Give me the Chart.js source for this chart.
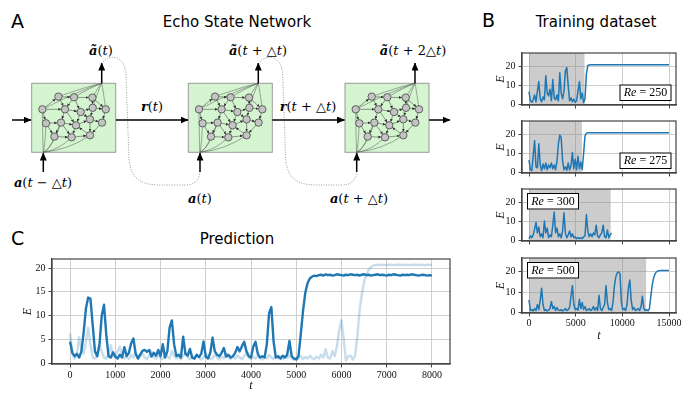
<!DOCTYPE html>
<html>
<head>
<meta charset="utf-8">
<script src="https://cdn.jsdelivr.net/npm/chart.js@4.4.1/dist/chart.umd.min.js"></script>
<style>
html, body { margin: 0; padding: 0; background: #fff; }
#wrap { position: relative; width: 695px; height: 400px; overflow: hidden; }
#wrap svg { position: absolute; left: 0; top: 0; }
#wrap canvas { position: absolute; }
.m { font-family: 'DejaVu Serif', serif; font-size: 13px; }
.bv { font-weight: bold; font-style: italic; }
.it { font-style: italic; }
</style>
</head>
<body>
<div id="wrap">
<svg id="diagram" width="695" height="400" viewBox="0 0 695 400" font-family="'DejaVu Sans', sans-serif">
  <defs>
    <marker id="ah" markerWidth="8" markerHeight="7" refX="7.5" refY="3.5" orient="auto" markerUnits="userSpaceOnUse">
      <path d="M0,0 L8,3.5 L0,7 Z" fill="#000"/>
    </marker>
    <marker id="sa" markerWidth="3" markerHeight="3" refX="3" refY="1.5" orient="auto" markerUnits="userSpaceOnUse">
      <path d="M0,0 L3,1.5 L0,3 Z" fill="#333"/>
    </marker>
    <g id="net"></g>
  </defs>

  <text x="11" y="28" font-size="19">A</text>
  <text x="237" y="27" text-anchor="middle" font-size="15">Echo State Network</text>
  <text x="482" y="27" font-size="19">B</text>
  <text x="596" y="27" text-anchor="middle" font-size="15">Training dataset</text>
  <text x="11" y="245" font-size="19">C</text>
  <text x="237" y="244" text-anchor="middle" font-size="15">Prediction</text>

  <!-- dotted feedback loops -->
  <path d="M103,62 C110,54 125,55 126,75 L129,160 C131,178 140,185 160,185 L185,185 C195,185 199,180 200,172" fill="none" stroke="#9a9a9a" stroke-width="1" stroke-dasharray="1,1.5"/>
  <path transform="translate(156.7,0)" d="M103,62 C110,54 125,55 126,75 L129,160 C131,178 140,185 160,185 L185,185 C195,185 199,180 200,172" fill="none" stroke="#9a9a9a" stroke-width="1" stroke-dasharray="1,1.5"/>

  <use href="#net" x="31.7" y="83.3"/>
  <use href="#net" x="188.3" y="83.3"/>
  <use href="#net" x="345" y="83.3"/>

  <g stroke="#000" stroke-width="1.5" fill="none" marker-end="url(#ah)">
    <path d="M12,120 L31,120"/>
    <path d="M116,120 L188,120"/>
    <path d="M272.3,120 L344.5,120"/>
    <path d="M429,120 L450,120"/>
    <path d="M101.7,83.3 L101.7,63"/>
    <path d="M258.3,83.3 L258.3,63"/>
    <path d="M415,83.3 L415,63"/>
    <path d="M43.3,172 L43.3,153"/>
    <path d="M200,172 L200,153"/>
    <path d="M356.7,172 L356.7,153"/>
  </g>

  <text class="m" x="101" y="55" text-anchor="middle"><tspan class="bv">ã</tspan>(<tspan class="it">t</tspan>)</text>
  <text class="m" x="258" y="55" text-anchor="middle"><tspan class="bv">ã</tspan>(<tspan class="it">t</tspan> + △<tspan class="it">t</tspan>)</text>
  <text class="m" x="413" y="55" text-anchor="middle"><tspan class="bv">ã</tspan>(<tspan class="it">t</tspan> + 2△<tspan class="it">t</tspan>)</text>
  <text class="m" x="152" y="111" text-anchor="middle"><tspan class="bv">r</tspan>(<tspan class="it">t</tspan>)</text>
  <text class="m" x="308" y="111" text-anchor="middle"><tspan class="bv">r</tspan>(<tspan class="it">t</tspan> + △<tspan class="it">t</tspan>)</text>
  <text class="m" x="43" y="187" text-anchor="middle"><tspan class="bv">a</tspan>(<tspan class="it">t</tspan> − △<tspan class="it">t</tspan>)</text>
  <text class="m" x="200" y="203" text-anchor="middle"><tspan class="bv">a</tspan>(<tspan class="it">t</tspan>)</text>
  <text class="m" x="359" y="203" text-anchor="middle"><tspan class="bv">a</tspan>(<tspan class="it">t</tspan> + △<tspan class="it">t</tspan>)</text>
</svg>

<canvas id="predC" width="460" height="150" style="left:0px;top:250px"></canvas>
<canvas id="re250" width="196" height="70" style="left:490px;top:44px"></canvas>
<canvas id="re275" width="196" height="70" style="left:490px;top:112px"></canvas>
<canvas id="re300" width="196" height="70" style="left:490px;top:180px"></canvas>
<canvas id="re500" width="196" height="100" style="left:490px;top:249px"></canvas>
</div>

<script>
// ---- panel C: prediction vs. truth, sampled every 50 time units ----
const tStepC = 50;
const predE = [
  4.5, 2.2, 1.5, 2.0, 1.2, 2.5, 6.5, 11.5, 13.8, 13.6,
  8.0, 2.5, 1.5, 4.0, 10.0, 12.3, 6.0, 1.5, 1.2, 2.3,
  1.4, 1.0, 1.8, 1.2, 3.4, 1.5, 2.2, 4.2, 5.2, 2.0,
  1.0, 1.8, 2.6, 2.8, 2.4, 2.8, 1.4, 2.2, 1.6, 2.8,
  1.5, 4.0, 1.2, 2.5, 7.5, 9.0, 4.0, 1.5, 1.8, 1.2,
  5.6, 2.0, 1.6, 3.0, 1.2, 1.0, 1.8, 1.3, 2.0, 4.6,
  1.4, 1.0, 2.2, 5.4, 2.5, 1.8, 1.5, 2.2, 3.2, 1.4,
  1.8, 1.2, 1.5, 2.2, 3.4, 2.5, 3.6, 4.5, 2.5, 1.5,
  1.2, 3.5, 4.5, 2.0, 1.2, 1.5, 1.2, 4.0, 10.5, 11.8,
  4.5, 1.2, 1.5, 1.0, 1.6, 1.2, 1.8, 4.7, 1.5, 1.0,
  0.8, 1.5, 6.0, 11.0, 14.8, 16.8, 17.8, 18.2, 18.4, 18.3,
  18.5, 18.6, 18.4, 18.7, 18.5, 18.6, 18.4, 18.5, 18.7, 18.6,
  18.5, 18.4, 18.6, 18.5, 18.7, 18.6, 18.5, 18.6, 18.4, 18.6,
  18.7, 18.5, 18.6, 18.4, 18.5, 18.6, 18.7, 18.5, 18.6, 18.5,
  18.4, 18.6, 18.5, 18.7, 18.6, 18.5, 18.4, 18.6, 18.5, 18.6,
  18.5, 18.7, 18.6, 18.5, 18.4, 18.5, 18.6, 18.5, 18.4, 18.5,
  18.4
];
const trueE = [
  6.3, 2.0, 1.0, 1.8, 5.5, 3.0, 2.0, 4.5, 7.5, 4.0,
  1.2, 1.0, 1.5, 3.8, 2.5, 1.2, 1.0, 2.0, 3.8, 1.5,
  1.2, 2.5, 3.5, 1.5, 1.0, 1.4, 0.9, 1.8, 1.2, 2.2,
  1.0, 1.5, 2.0, 1.2, 0.9, 1.6, 2.4, 1.3, 1.0, 1.8,
  1.1, 0.9, 2.0, 1.4, 1.0, 2.6, 1.5, 1.0, 1.3, 0.8,
  1.6, 2.2, 1.2, 0.9, 1.5, 1.0, 1.8, 1.3, 0.8, 1.2,
  2.0, 1.4, 0.9, 1.1, 1.8, 1.2, 0.8, 1.5, 1.0, 1.9,
  1.3, 0.9, 1.4, 1.0, 1.7, 1.2, 0.9, 1.5, 2.1, 1.2,
  0.9, 1.4, 1.0, 1.6, 1.1, 0.8, 1.3, 1.0, 1.8, 1.2,
  0.9, 1.5, 1.0, 1.3, 0.8, 1.4, 1.1, 1.6, 1.0, 0.8,
  1.2, 1.0, 1.5, 0.9, 1.3, 1.0, 1.6, 1.1, 0.9, 1.4,
  1.0, 1.8, 1.2, 3.0, 1.2, 1.0, 2.6, 1.5, 3.5, 7.0,
  9.0, 5.0, 0.6, 1.5, 1.6, 0.8, 1.5, 5.5, 11.0, 14.5,
  17.0, 18.6, 19.6, 20.2, 20.5, 20.6, 20.7, 20.6, 20.7, 20.7,
  20.6, 20.7, 20.7, 20.6, 20.7, 20.7, 20.7, 20.6, 20.7, 20.7,
  20.6, 20.7, 20.7, 20.7, 20.6, 20.7, 20.7, 20.6, 20.7, 20.7,
  20.7
];
const xTicksC = [0, 1000, 2000, 3000, 4000, 5000, 6000, 7000, 8000];
const yTicksC = [0, 5, 10, 15, 20];

// ---- panel B: training series, sampled every 150 time units ----
const tStepB = 150;
const re250E = [
  6.8, 2.0, 1.2, 2.5, 5.0, 1.5, 7.0, 12.0, 3.0, 1.5,
  4.0, 2.5, 15.0, 6.0, 4.5, 8.0, 2.0, 13.0, 3.5, 2.5,
  5.0, 2.0, 16.5, 6.0, 3.0, 7.0, 17.5, 19.2, 10.0, 2.0,
  3.5, 1.5, 2.8, 1.2, 2.0, 7.0, 12.0, 3.0, 6.0, 1.0,
  3.0, 16.0, 20.3, 20.6, 20.7
];
const re250End = [15000, 20.7];
const re250Shade = 5950;

const re275E = [
  6.5, 1.5, 1.0, 9.0, 16.5, 3.0, 2.5, 15.0, 4.0, 1.0,
  4.5, 2.0, 5.0, 1.5, 4.0, 2.5, 5.0, 2.0, 4.0, 1.5,
  6.0, 15.0, 19.5, 18.0, 6.0, 1.5, 3.0, 1.2, 5.0, 1.5,
  3.5, 10.5, 2.0, 7.0, 1.5, 8.5, 2.0, 5.5, 1.5, 10.0,
  19.0, 20.5, 20.7
];
const re275End = [15000, 20.7];
const re275Shade = 5670;

const re300E = [
  1.0, 2.5, 1.5, 3.0, 6.0, 9.5, 4.0, 7.0, 2.0, 3.5,
  1.5, 10.2, 4.0, 6.5, 1.5, 3.0, 2.0, 8.0, 14.8, 4.0,
  6.5, 2.0, 3.5, 1.5, 5.0, 14.5, 4.0, 1.5, 3.0, 5.0,
  2.0, 3.5, 1.5, 2.0, 1.0, 1.5, 1.0, 1.5, 1.0, 2.0,
  2.5, 13.5, 5.0, 2.0, 3.5, 2.0, 4.0, 3.0, 8.0, 2.5,
  1.5, 3.0, 4.0, 8.0, 2.0, 1.5, 5.5, 1.5, 3.0, 4.0
];
const re300Shade = 8750;

const re500E = [
  6.2, 1.0, 1.5, 0.8, 2.0, 1.0, 4.0, 1.5, 6.0, 12.0,
  4.0, 1.0, 1.5, 0.8, 1.2, 2.0, 5.5, 2.0, 3.0, 1.0,
  2.5, 1.2, 1.0, 1.5, 0.8, 1.2, 2.0, 1.0, 1.5, 2.5,
  8.0, 13.3, 4.0, 1.5, 2.0, 1.2, 6.5, 2.0, 5.0, 1.5,
  3.0, 1.0, 1.5, 2.0, 1.0, 1.5, 3.0, 1.2, 2.5, 1.0,
  8.5, 2.0, 1.0, 2.5, 4.0, 13.3, 5.0, 1.5, 2.0, 1.0,
  5.0, 13.0, 17.5, 19.5, 20.0, 19.0, 5.0, 1.5, 2.0, 1.0,
  4.0, 12.0, 16.0, 6.0, 1.5, 2.5, 1.0, 1.5, 2.0, 1.0,
  3.0, 8.0, 2.0, 1.0, 1.5, 0.8, 2.0, 8.0, 13.5, 17.0,
  19.0, 20.0, 20.4, 20.6, 20.7
];
const re500End = [15000, 20.7];
const re500Shade = 12550;

const xTicksB = [0, 5000, 10000, 15000];
const yTicksB = [0, 10, 20];

// ---- network sketch inside the ESN boxes (panel A) ----
const netNodes = [
  [26.7, 13.3], [42.3, 14], [60.7, 14.3], [10.7, 26], [33.3, 26], [49, 28.7],
  [61, 24.5], [74, 26], [14.3, 40], [29.3, 39.3], [44.3, 42], [58.3, 36],
  [70.3, 39.3], [22.7, 53.3], [40, 54], [58.3, 52]
];
const netEdges = [
  [3, 0], [3, 4], [0, 1], [1, 2], [4, 5], [5, 6], [6, 7], [3, 8], [8, 9], [9, 10],
  [10, 11], [11, 12], [13, 14], [14, 15], [0, 4], [4, 9], [9, 13], [1, 5], [5, 10],
  [10, 14], [2, 6], [6, 11], [11, 15], [7, 12], [8, 13], [12, 15], [4, 10], [9, 14],
  [5, 11], [2, 7], [1, 4], [15, 10]
];
const netOut = [3, 0, 1, 2, 6, 7];
const netIn = [8, 13, 14, 15, 9, 3];

(function buildNet() {
  const ns = 'http://www.w3.org/2000/svg';
  const g = document.getElementById('net');
  const add = (tag, attrs) => {
    const el = document.createElementNS(ns, tag);
    for (const k in attrs) el.setAttribute(k, attrs[k]);
    g.appendChild(el);
    return el;
  };
  add('rect', { x: 0, y: 0, width: 84, height: 69, fill: '#d4f5d0', stroke: '#9a9a9a', 'stroke-width': 1 });
  const outP = [70, 0], inP = [11.6, 69];
  netOut.forEach(i => {
    const [x, y] = netNodes[i];
    const cx = x * 0.35 + outP[0] * 0.65, cy = y * 0.25;
    add('path', { d: `M${x},${y} Q${cx},${cy} ${outP[0]},${outP[1]}`, fill: 'none', stroke: '#555', 'stroke-width': 0.5 });
  });
  netIn.forEach(i => {
    const [x, y] = netNodes[i];
    const cx = inP[0] + (x - inP[0]) * 0.55, cy = inP[1] - (inP[1] - y) * 0.15;
    add('path', { d: `M${inP[0]},${inP[1]} Q${cx},${cy} ${x},${y}`, fill: 'none', stroke: '#555', 'stroke-width': 0.5 });
  });
  const r = 3.7;
  netEdges.forEach(([a, b]) => {
    const [x1, y1] = netNodes[a], [x2, y2] = netNodes[b];
    const d = Math.hypot(x2 - x1, y2 - y1);
    const ux = (x2 - x1) / d, uy = (y2 - y1) / d;
    add('line', { x1: x1 + ux * r, y1: y1 + uy * r, x2: x2 - ux * r, y2: y2 - uy * r,
      stroke: '#333', 'stroke-width': 0.5, 'marker-end': 'url(#sa)' });
  });
  netNodes.forEach(([x, y]) => add('circle', { cx: x, cy: y, r: r, fill: '#c4c4c4', stroke: '#444', 'stroke-width': 0.8 }));
})();

// ---- charts ----
const serif = "'Liberation Serif', 'DejaVu Serif', serif";
const gridColor = '#cfcfcf';
const spineColor = '#444';

const decor = {
  id: 'decor',
  beforeDatasetsDraw(chart, args, opts) {
    if (opts.shadeTo == null) return;
    const { ctx, chartArea: a, scales: { x } } = chart;
    const x0 = x.getPixelForValue(0), x1 = x.getPixelForValue(opts.shadeTo);
    ctx.save();
    ctx.fillStyle = 'rgba(128,128,128,0.4)';
    ctx.fillRect(x0, a.top, x1 - x0, a.bottom - a.top);
    ctx.restore();
  },
  afterDraw(chart, args, opts) {
    const { ctx, chartArea: a } = chart;
    ctx.save();
    ctx.strokeStyle = spineColor;
    ctx.lineWidth = 1.2;
    ctx.strokeRect(a.left, a.top, a.right - a.left, a.bottom - a.top);
    if (opts.label) {
      const w = 52, h = 16.5;
      const bx = opts.corner === 'br' ? a.right - 4.5 - w : a.left + 5;
      const by = opts.corner === 'br' ? a.bottom - 4 - h : a.top + 4;
      ctx.fillStyle = '#fff';
      ctx.fillRect(bx, by, w, h);
      ctx.strokeStyle = '#000';
      ctx.lineWidth = 1;
      ctx.strokeRect(bx + 0.5, by + 0.5, w - 1, h - 1);
      ctx.fillStyle = '#000';
      ctx.textBaseline = 'middle';
      ctx.font = `italic 12px ${serif}`;
      const t1 = 'Re';
      const t2 = ' = ' + opts.label;
      const w1 = ctx.measureText(t1).width;
      ctx.font = `12px ${serif}`;
      const w2 = ctx.measureText(t2).width;
      let tx = bx + (w - w1 - w2) / 2;
      const ty = by + h / 2 + 0.5;
      ctx.font = `italic 12px ${serif}`;
      ctx.fillText(t1, tx, ty);
      ctx.font = `12px ${serif}`;
      ctx.fillText(t2, tx + w1, ty);
    }
    ctx.restore();
  }
};
Chart.register(decor);

function axis(cfg) {
  return {
    type: 'linear',
    min: cfg.min,
    max: cfg.max,
    afterBuildTicks: s => { s.ticks = cfg.ticks.map(v => ({ value: v })); },
    afterFit: s => { if (cfg.width != null) s.width = cfg.width; if (cfg.height != null) s.height = cfg.height; },
    grid: { color: gridColor, lineWidth: 1, tickColor: spineColor, tickLength: 3.5, drawTicks: true },
    border: { display: true, color: spineColor, width: 1.2 },
    ticks: {
      display: cfg.labels !== false,
      autoSkip: false,
      maxRotation: 0,
      padding: cfg.tickPad,
      color: '#111',
      font: { family: serif, size: 10 },
      callback: v => String(v)
    },
    title: cfg.title ? {
      display: true,
      text: cfg.title,
      color: '#111',
      font: { family: serif, size: 12, style: 'italic' },
      padding: cfg.titlePad
    } : { display: false }
  };
}

function lineChart(id, datasets, o) {
  return new Chart(document.getElementById(id), {
    type: 'line',
    data: { datasets },
    options: {
      animation: false,
      responsive: false,
      layout: { padding: { top: o.padTop, right: o.padRight, left: 0, bottom: 0 } },
      elements: { point: { radius: 0 }, line: { tension: 0, borderJoinStyle: 'round' } },
      plugins: { legend: { display: false }, tooltip: { enabled: false }, decor: o.decor || {} },
      scales: { x: axis(o.x), y: axis(o.y) }
    }
  });
}

const pts = (vals, step, end) => {
  const p = vals.map((v, i) => ({ x: i * step, y: v }));
  if (end) p.push({ x: end[0], y: end[1] });
  return p;
};

lineChart('predC', [
  { data: pts(predE, tStepC), borderColor: '#1f77b4', borderWidth: 2.4 },
  { data: pts(trueE, tStepC), borderColor: 'rgba(31,119,180,0.25)', borderWidth: 2.4 }
], {
  padTop: 8, padRight: 10,
  x: { min: -400, max: 8400, ticks: xTicksC, height: 36, tickPad: 2, title: 't', titlePad: { bottom: 7 } },
  y: { min: -0.15, max: 21.9, ticks: yTicksC, width: 52, tickPad: 3, title: 'E', titlePad: { top: 21 } }
});

const bSeries = [
  { id: 're250', vals: re250E, end: re250End, shade: re250Shade, label: '250', corner: 'br', last: false },
  { id: 're275', vals: re275E, end: re275End, shade: re275Shade, label: '275', corner: 'br', last: false },
  { id: 're300', vals: re300E, end: null, shade: re300Shade, label: '300', corner: 'tl', last: false },
  { id: 're500', vals: re500E, end: re500End, shade: re500Shade, label: '500', corner: 'tl', last: true }
];
bSeries.forEach(s => {
  lineChart(s.id, [
    { data: pts(s.vals, tStepB, s.end), borderColor: '#1f77b4', borderWidth: 1.5 }
  ], {
    padTop: 3, padRight: 10,
    decor: { shadeTo: s.shade, label: s.label, corner: s.corner },
    x: s.last
      ? { min: -750, max: 15750, ticks: xTicksB, height: 36, tickPad: 1, title: 't', titlePad: { bottom: 6 } }
      : { min: -750, max: 15750, ticks: xTicksB, height: 6, labels: false },
    y: { min: -0.2, max: 26.8, ticks: yTicksB, width: 32, tickPad: 3, title: 'E', titlePad: { top: 4 } }
  });
});
</script>
</body>
</html>
